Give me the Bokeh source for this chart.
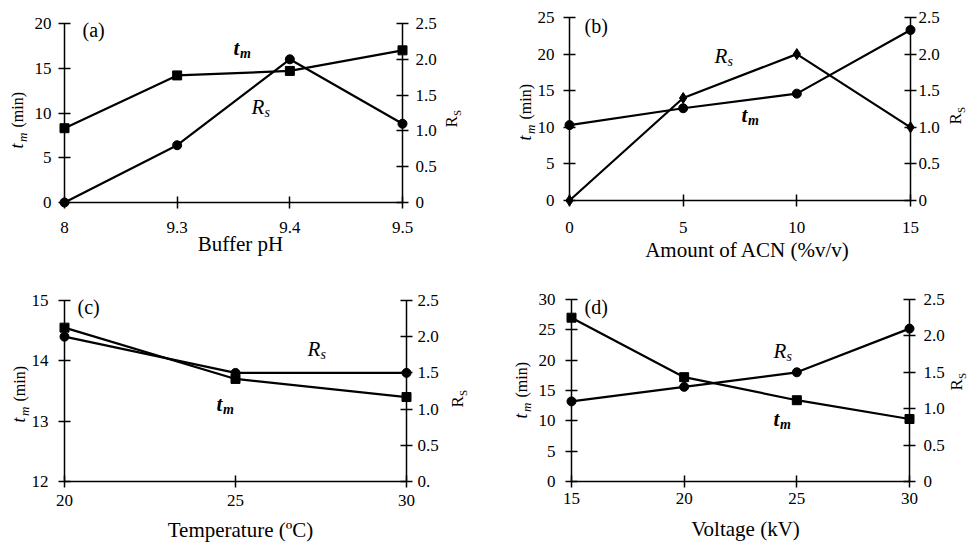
import math
from bokeh.plotting import figure
from bokeh.models import Range1d, LinearAxis, FixedTicker, Label
from bokeh.layouts import column, row
from bokeh.embed import file_html
from bokeh.resources import INLINE

# ---------------- data ----------------
ph_labels = ["8", "9.3", "9.4", "9.5"]
ph_tm = [8.3, 14.2, 14.7, 17.0]
ph_rs = [0.0, 0.8, 2.0, 1.1]

acn = [0, 5, 10, 15]
acn_tm = [10.3, 12.6, 14.6, 23.3]
acn_rs = [0.0, 1.4, 2.0, 1.0]

temp = [20, 25, 30]
temp_tm = [14.55, 13.7, 13.4]
temp_rs = [2.0, 1.5, 1.5]

volt = [15, 20, 25, 30]
volt_tm = [27.0, 17.2, 13.4, 10.3]
volt_rs = [1.1, 1.3, 1.5, 2.1]

rs_ticks = [0, 0.5, 1.0, 1.5, 2.0, 2.5]
rs_labels = ["0", "0.5", "1.0", "1.5", "2.0", "2.5"]
rs_labels_c = ["0.", "0.5", "1.0", "1.5", "2.0", "2.5"]

ph_x = list(range(len(ph_labels)))

FONT = "Liberation Serif"


def make_panel(cfg):
    ox, oy, W, H = cfg["box"]
    L, R, T, B = cfg["axes_px"]
    x0, x1 = cfg["xlim"]
    y0, y1 = cfg["ylim"]
    r0, r1 = 0.0, 2.5
    dx = (x1 - x0) / (R - L)
    dy = (y1 - y0) / (B - T)
    dr = (r1 - r0) / (B - T)
    p = figure(width=W, height=H,
               x_range=Range1d(x0 - (L - ox) * dx, x0 + (ox + W - L) * dx),
               y_range=Range1d(y0 - (oy + H - B) * dy, y0 + (B - oy) * dy),
               output_backend="svg", toolbar_location=None,
               min_border_left=0, min_border_right=0,
               min_border_top=0, min_border_bottom=0)
    p.extra_y_ranges = {"rs": Range1d(r0 - (oy + H - B) * dr, r0 + (B - oy) * dr)}
    p.outline_line_color = None
    p.xgrid.visible = False
    p.ygrid.visible = False
    p.background_fill_color = "white"
    p.border_fill_color = "white"

    def style(ax, standoff):
        ax.axis_line_width = 1.5
        ax.axis_line_color = "black"
        ax.major_tick_line_width = 1.5
        ax.major_tick_line_color = "black"
        ax.major_tick_in = 6
        ax.major_tick_out = 6
        ax.minor_tick_line_color = None
        ax.major_label_text_font = FONT
        ax.major_label_text_font_size = "17px"
        ax.major_label_text_color = "black"
        ax.major_label_standoff = standoff

    xa = p.xaxis[0]
    xa.ticker = FixedTicker(ticks=cfg["xticks"])
    if cfg.get("xoverrides"):
        xa.major_label_overrides = cfg["xoverrides"]
    xa.fixed_location = y0
    xa.bounds = (x0, x1)
    style(xa, cfg["xstand"])

    ya = p.yaxis[0]
    ya.ticker = FixedTicker(ticks=cfg["yticks"])
    ya.fixed_location = x0
    ya.bounds = (y0, y1)
    style(ya, cfg["ystand"])

    ra = LinearAxis(y_range_name="rs", ticker=FixedTicker(ticks=rs_ticks),
                    major_label_overrides=dict(zip(rs_ticks, cfg["rlabels"])),
                    fixed_location=x1, bounds=(r0, r1))
    style(ra, cfg["rstand"])
    p.add_layout(ra, "right")

    def to_data(px, py):
        return x0 + (px - L) * dx, y0 + (B - py) * dy

    def txt(px, py, s, size, fstyle="normal", align="left", angle=0.0):
        # (px, py) is the baseline point; shift to the visual middle of the text
        k = 0.33 * size
        cx = px - math.sin(angle) * k
        cy = py - math.cos(angle) * k
        xd, yd = to_data(cx, cy)
        p.add_layout(Label(x=xd, y=yd, text=s, text_font=FONT,
                           text_font_size=f"{size}px", text_font_style=fstyle,
                           text_align=align, text_baseline="middle",
                           angle=angle, text_color="black"))

    # data
    xs = cfg["x"]
    p.line(xs, cfg["tm"], line_width=2.2, line_color="black")
    p.scatter(xs, cfg["tm"], marker=cfg["tm_marker"], size=cfg["tm_size"],
              fill_color="black", line_color="black")
    p.line(xs, cfg["rs"], line_width=2.2, line_color="black", y_range_name="rs")
    p.scatter(xs, cfg["rs"], marker=cfg["rs_marker"], size=cfg["rs_size"],
              fill_color="black", line_color="black", y_range_name="rs")

    # panel tag
    tx, ty = cfg["tag_px"]
    txt(tx, ty, cfg["tag"], 20)
    # in-plot series labels
    ax_, ay_ = cfg["tm_px"]
    txt(ax_, ay_, "t", 21, "bold italic")
    txt(ax_ + 6.5, ay_ + 4, "m", 14, "bold italic")
    bx_, by_ = cfg["rs_px"]
    txt(bx_, by_, "R", 21, "italic")
    txt(bx_ + 13, by_ + 4, "s", 14, "italic")
    # left axis title (rotated) t_m (min)
    lx, ly = cfg["ylab_px"]
    a90 = math.pi / 2
    txt(lx, ly, "t", 18, "italic", angle=a90)
    txt(lx + 4, ly - 6.5, "m", 13, "italic", angle=a90)
    txt(lx, ly - 21, "(min)", 16, angle=a90)
    # right axis title R_S
    rx, ry = cfg["rlab_px"]
    txt(rx, ry, "R", 17, angle=a90)
    txt(rx + 3, ry - 11.5, "S", 11, angle=a90)
    # x axis title
    cx, cy = cfg["xlab_px"]
    txt(cx, cy, cfg["xlabel"], 21, align="center")
    return p


cfgs = [
    dict(box=(0, 0, 486, 270), axes_px=(64, 402, 23, 202),
         xlim=(ph_x[0], ph_x[-1]), ylim=(0, 20),
         xticks=ph_x, xoverrides=dict(zip(ph_x, ph_labels)),
         yticks=[0, 5, 10, 15, 20], rlabels=rs_labels,
         xstand=13, ystand=7, rstand=7,
         x=ph_x, tm=ph_tm, rs=ph_rs,
         tm_marker="square", tm_size=9, rs_marker="circle", rs_size=9,
         tag="(a)", tag_px=(82, 36), tm_px=(233, 54), rs_px=(251, 113),
         ylab_px=(22, 148), rlab_px=(457, 127),
         xlabel="Buffer pH", xlab_px=(240, 250)),
    dict(box=(486, 0, 484, 270), axes_px=(569, 910, 17, 200),
         xlim=(0, 15), ylim=(0, 25),
         xticks=acn, xoverrides=None,
         yticks=[0, 5, 10, 15, 20, 25], rlabels=rs_labels,
         xstand=15, ystand=9, rstand=2,
         x=acn, tm=acn_tm, rs=acn_rs,
         tm_marker="circle", tm_size=9, rs_marker="diamond", rs_size=11,
         tag="(b)", tag_px=(584, 32), tm_px=(741, 121), rs_px=(714, 62),
         ylab_px=(530, 140), rlab_px=(961, 124),
         xlabel="Amount of ACN (%v/v)", xlab_px=(747, 256)),
    dict(box=(0, 270, 486, 273), axes_px=(64, 406, 300, 481),
         xlim=(20, 30), ylim=(12, 15),
         xticks=temp, xoverrides=None,
         yticks=[12, 13, 14, 15], rlabels=rs_labels_c,
         xstand=7, ystand=10, rstand=5,
         x=temp, tm=temp_tm, rs=temp_rs,
         tm_marker="square", tm_size=9, rs_marker="circle", rs_size=9,
         tag="(c)", tag_px=(77, 313), tm_px=(216, 410), rs_px=(307, 355),
         ylab_px=(24, 422), rlab_px=(463, 407),
         xlabel="Temperature (\u00baC)", xlab_px=(240, 536)),
    dict(box=(486, 270, 484, 273), axes_px=(571, 909, 299, 481),
         xlim=(15, 30), ylim=(0, 30),
         xticks=volt, xoverrides=None,
         yticks=[0, 5, 10, 15, 20, 25, 30], rlabels=rs_labels,
         xstand=5, ystand=10, rstand=8,
         x=volt, tm=volt_tm, rs=volt_rs,
         tm_marker="square", tm_size=9, rs_marker="circle", rs_size=9,
         tag="(d)", tag_px=(584, 313), tm_px=(773, 425), rs_px=(773, 357),
         ylab_px=(526, 418), rlab_px=(962, 390),
         xlabel="Voltage (kV)", xlab_px=(745, 535)),
]

panels = [make_panel(c) for c in cfgs]
layout = column(row(panels[0], panels[1]), row(panels[2], panels[3]))

open("out.html", "w").write(file_html(layout, INLINE))
